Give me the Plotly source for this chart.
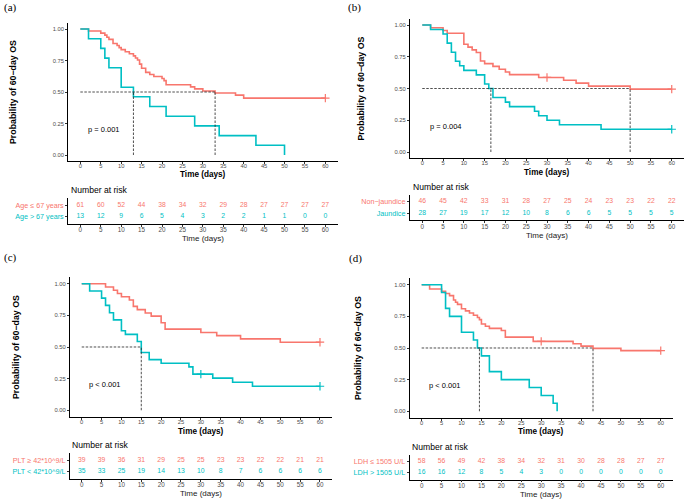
import plotly.graph_objects as go

W, H = 685, 499
RED = "#F8766D"
TEAL = "#00BFC4"
FONT = "Liberation Sans, Arial, sans-serif"
SERIF = "Liberation Serif, Times New Roman, serif"

TIMES = [0, 5, 10, 15, 20, 25, 30, 35, 40, 45, 50, 55, 60]
Y_TICKS = [0, 0.25, 0.5, 0.75, 1.0]
Y_TICK_TEXT = ["0.00", "0.25", "0.50", "0.75", "1.00"]

# ---- (a) age
A_LABELS = ["Age ≤ 67 years", "Age > 67 years"]
A_RED_T = [0, 2, 5, 6, 6.5, 7, 8, 9, 9.5, 10, 11, 12, 13, 13.5, 14, 14.5, 15, 16, 17, 18,
           20, 20.5, 21, 27, 28, 30, 33, 38, 40, 60]
A_RED_S = [1.0, 0.984, 0.967, 0.951, 0.934, 0.918, 0.885, 0.869, 0.852, 0.836, 0.820, 0.803,
           0.787, 0.770, 0.754, 0.721, 0.689, 0.656, 0.639, 0.623, 0.607, 0.590, 0.557, 0.541,
           0.525, 0.508, 0.492, 0.475, 0.451, 0.451]
A_BLUE_T = [0, 2, 5, 6, 7, 10, 13, 17, 21, 28, 34, 43, 50]
A_BLUE_S = [1.0, 0.923, 0.846, 0.769, 0.692, 0.538, 0.462, 0.385, 0.308, 0.231, 0.154, 0.077, 0.0]
A_RED_CENS_T, A_RED_CENS_S = [60], [0.451]
A_BLUE_CENS_T, A_BLUE_CENS_S = [], []
A_MEDIANS = [13, 33]
A_PVAL = "p = 0.001"
A_RISK_RED = [61, 60, 52, 44, 38, 34, 32, 29, 28, 27, 27, 27, 27]
A_RISK_BLUE = [13, 12, 9, 6, 5, 4, 3, 2, 2, 1, 1, 0, 0]

# ---- (b) jaundice
B_LABELS = ["Non−jaundice", "Jaundice"]
B_RED_T = [0, 2, 5, 6, 10, 11, 12, 13, 14, 15, 17, 18.5, 20, 21, 28, 34, 37, 40, 50, 60]
B_RED_S = [1.0, 0.978, 0.957, 0.935, 0.848, 0.826, 0.804, 0.783, 0.717, 0.696, 0.674, 0.652,
           0.630, 0.609, 0.587, 0.565, 0.542, 0.519, 0.495, 0.495]
B_BLUE_T = [0, 2, 5, 6, 7, 8, 9, 10, 13, 15, 16, 17, 20, 21, 27, 28, 30, 33, 43, 60]
B_BLUE_S = [1.0, 0.964, 0.929, 0.857, 0.786, 0.714, 0.679, 0.643, 0.607, 0.536, 0.500, 0.429,
            0.393, 0.357, 0.321, 0.286, 0.250, 0.214, 0.179, 0.179]
B_RED_CENS_T, B_RED_CENS_S = [30, 60], [0.587, 0.495]
B_BLUE_CENS_T, B_BLUE_CENS_S = [60], [0.179]
B_MEDIANS = [16.5, 50]
B_PVAL = "p = 0.004"
B_RISK_RED = [46, 45, 42, 33, 31, 28, 27, 25, 24, 23, 23, 22, 22]
B_RISK_BLUE = [28, 27, 19, 17, 12, 10, 8, 6, 6, 5, 5, 5, 5]

# ---- (c) platelets
C_LABELS = ["PLT ≥ 42*10^9/L", "PLT &lt; 42*10^9/L"]
C_RED_T = [0, 6, 8, 9, 10, 12, 13, 14, 16, 17.5, 20, 21, 30, 34, 40, 50, 60]
C_RED_S = [1.0, 0.974, 0.949, 0.923, 0.897, 0.872, 0.821, 0.795, 0.769, 0.744, 0.692, 0.641,
           0.615, 0.590, 0.564, 0.538, 0.538]
C_BLUE_T = [0, 2, 5, 6, 7, 8, 10, 11, 14, 15, 17, 20, 27, 28, 33, 38, 43, 60]
C_BLUE_S = [1.0, 0.943, 0.886, 0.829, 0.771, 0.714, 0.629, 0.600, 0.543, 0.457, 0.400, 0.371,
            0.343, 0.286, 0.254, 0.222, 0.190, 0.190]
C_RED_CENS_T, C_RED_CENS_S = [60], [0.538]
C_BLUE_CENS_T, C_BLUE_CENS_S = [30, 60], [0.286, 0.190]
C_MEDIANS = [15]
C_PVAL = "p &lt; 0.001"
C_RISK_RED = [39, 39, 36, 31, 29, 25, 25, 23, 23, 22, 22, 21, 21]
C_RISK_BLUE = [35, 33, 25, 19, 14, 13, 10, 8, 7, 6, 6, 6, 6]

# ---- (d) LDH
D_LABELS = ["LDH ≤ 1505 U/L", "LDH > 1505 U/L"]
D_RED_T = [0, 2, 5, 6, 7, 8, 8.5, 9, 10, 11, 12, 13, 14, 14.5, 15, 16, 17, 20, 21, 28,
           38, 40, 43, 50, 60]
D_RED_S = [1.0, 0.966, 0.948, 0.931, 0.914, 0.879, 0.862, 0.845, 0.810, 0.793, 0.776, 0.759,
           0.741, 0.724, 0.690, 0.672, 0.655, 0.638, 0.586, 0.552, 0.533, 0.515, 0.497, 0.479,
           0.479]
D_BLUE_T = [0, 5, 6, 7, 10, 13, 14, 15, 17, 20, 27, 30, 33, 34]
D_BLUE_S = [1.0, 0.938, 0.813, 0.750, 0.625, 0.563, 0.500, 0.438, 0.313, 0.250, 0.188, 0.125,
            0.063, 0.0]
D_RED_CENS_T, D_RED_CENS_S = [30, 60], [0.552, 0.479]
D_BLUE_CENS_T, D_BLUE_CENS_S = [], []
D_MEDIANS = [14.5, 43]
D_PVAL = "p &lt; 0.001"
D_RISK_RED = [58, 56, 49, 42, 38, 34, 32, 31, 30, 28, 28, 27, 27]
D_RISK_BLUE = [16, 16, 12, 8, 5, 4, 3, 0, 0, 0, 0, 0, 0]

panels = [
    dict(tag="(a)", labels=A_LABELS, red=(A_RED_T, A_RED_S, A_RED_CENS_T, A_RED_CENS_S),
         blue=(A_BLUE_T, A_BLUE_S, A_BLUE_CENS_T, A_BLUE_CENS_S), medians=A_MEDIANS,
         pval=A_PVAL, risk=(A_RISK_RED, A_RISK_BLUE)),
    dict(tag="(b)", labels=B_LABELS, red=(B_RED_T, B_RED_S, B_RED_CENS_T, B_RED_CENS_S),
         blue=(B_BLUE_T, B_BLUE_S, B_BLUE_CENS_T, B_BLUE_CENS_S), medians=B_MEDIANS,
         pval=B_PVAL, risk=(B_RISK_RED, B_RISK_BLUE)),
    dict(tag="(c)", labels=C_LABELS, red=(C_RED_T, C_RED_S, C_RED_CENS_T, C_RED_CENS_S),
         blue=(C_BLUE_T, C_BLUE_S, C_BLUE_CENS_T, C_BLUE_CENS_S), medians=C_MEDIANS,
         pval=C_PVAL, risk=(C_RISK_RED, C_RISK_BLUE)),
    dict(tag="(d)", labels=D_LABELS, red=(D_RED_T, D_RED_S, D_RED_CENS_T, D_RED_CENS_S),
         blue=(D_BLUE_T, D_BLUE_S, D_BLUE_CENS_T, D_BLUE_CENS_S), medians=D_MEDIANS,
         pval=D_PVAL, risk=(D_RISK_RED, D_RISK_BLUE)),
]

# pixel boxes of each panel (layout only)
boxes = [
    dict(km_x=(68.1, 337.6), km_y=(22.7, 161.3), tb_y=(198, 223.7), ytitle_x=13,
         kmx_title_y=174, nar=(69, 190), tbx_title_y=238, tag=(2, 7)),
    dict(km_x=(409.8, 684.2), km_y=(18.65, 158.35), tb_y=(194.7, 220.3), ytitle_x=360,
         kmx_title_y=172.7, nar=(410.7, 187), tbx_title_y=235, tag=(346, 7)),
    dict(km_x=(69.8, 331.9), km_y=(277.4, 416.6), tb_y=(453, 478.7), ytitle_x=16,
         kmx_title_y=431, nar=(70, 445), tbx_title_y=493.3, tag=(2, 257)),
    dict(km_x=(409.7, 672.7), km_y=(278.4, 417.6), tb_y=(454.5, 479.5), ytitle_x=358,
         kmx_title_y=431.7, nar=(410, 446.7), tbx_title_y=494, tag=(347, 258)),
]


def fx(px):
    return px / W


def fy(py):
    return 1 - py / H


fig = go.Figure()
layout = {}
annotations = []

axis_common = dict(showline=True, linecolor="black", linewidth=0.9, showgrid=False,
                   zeroline=False, ticks="outside", ticklen=2, tickwidth=0.8,
                   tickcolor="#333333", tickfont=dict(family=FONT, size=5.8, color="#4D4D4D"))

for i, (p, b) in enumerate(zip(panels, boxes)):
    km, tb = 2 * i + 1, 2 * i + 2
    xk = "x" if km == 1 else f"x{km}"
    yk = "y" if km == 1 else f"y{km}"
    xt, yt = f"x{tb}", f"y{tb}"

    # survival curves
    for color, (t, s, ct, cs) in [(RED, p["red"]), (TEAL, p["blue"])]:
        fig.add_trace(go.Scatter(x=t, y=s, mode="lines", xaxis=xk, yaxis=yk,
                                 line=dict(color=color, width=1.6, shape="hv"),
                                 showlegend=False, hoverinfo="skip"))
        if ct:
            fig.add_trace(go.Scatter(x=ct, y=cs, mode="markers", xaxis=xk, yaxis=yk,
                                     marker=dict(symbol="cross-thin", size=6, color=color,
                                                 line=dict(color=color, width=1.2)),
                                     showlegend=False, hoverinfo="skip"))

    # median lines
    meds = p["medians"]
    dash = dict(color="#222222", width=0.8, dash="2.5px,1.5px")
    fig.add_trace(go.Scatter(x=[0, max(meds)], y=[0.5, 0.5], mode="lines", line=dash,
                             xaxis=xk, yaxis=yk, showlegend=False, hoverinfo="skip"))
    for m in meds:
        fig.add_trace(go.Scatter(x=[m, m], y=[0, 0.5], mode="lines", line=dash,
                                 xaxis=xk, yaxis=yk, showlegend=False, hoverinfo="skip"))

    # risk table
    for row, color, vals in [(2, RED, p["risk"][0]), (1, TEAL, p["risk"][1])]:
        fig.add_trace(go.Scatter(x=TIMES, y=[row] * len(TIMES), text=[str(v) for v in vals],
                                 mode="text", textfont=dict(family=FONT, size=6.8, color=color),
                                 xaxis=xt, yaxis=yt, showlegend=False, hoverinfo="skip"))

    xdom = [fx(b["km_x"][0]), fx(b["km_x"][1])]
    layout["xaxis" if km == 1 else f"xaxis{km}"] = dict(
        axis_common, domain=xdom, anchor=yk, range=[-3, 63], tickvals=TIMES,
        ticklabelstandoff=-3)
    layout["yaxis" if km == 1 else f"yaxis{km}"] = dict(
        axis_common, domain=[fy(b["km_y"][1]), fy(b["km_y"][0])], anchor=xk,
        range=[-0.05, 1.05], tickvals=Y_TICKS, ticktext=Y_TICK_TEXT)
    layout[f"xaxis{tb}"] = dict(axis_common, domain=xdom, anchor=yt, range=[-3, 63],
                                tickvals=TIMES, ticklabelstandoff=-2,
                                tickfont=dict(family=FONT, size=6.3, color="#4D4D4D"))
    layout[f"yaxis{tb}"] = dict(
        axis_common, domain=[fy(b["tb_y"][1]), fy(b["tb_y"][0])], anchor=xt,
        range=[0.4, 2.6], tickvals=[1, 2],
        ticktext=[f'<span style="color:{TEAL}">{p["labels"][1]}</span>',
                  f'<span style="color:{RED}">{p["labels"][0]}</span>'],
        tickfont=dict(family=FONT, size=7.2))

    xmid = (xdom[0] + xdom[1]) / 2
    annotations += [
        dict(text=p["tag"], x=fx(b["tag"][0]), y=fy(b["tag"][1]), xanchor="left",
             yanchor="middle", font=dict(family=SERIF, size=11, color="black")),
        dict(text="<b>Probability of 60−day OS</b>", x=fx(b["ytitle_x"]),
             y=fy((b["km_y"][0] + b["km_y"][1]) / 2), textangle=-90, xanchor="center",
             yanchor="middle", font=dict(family=FONT, size=8.8, color="black")),
        dict(text="<b>Time (days)</b>", x=xmid, y=fy(b["kmx_title_y"]), xanchor="center",
             yanchor="middle", font=dict(family=FONT, size=8.2, color="black")),
        dict(text="Number at risk", x=fx(b["nar"][0]), y=fy(b["nar"][1]), xanchor="left",
             yanchor="middle", font=dict(family=FONT, size=8.6, color="black")),
        dict(text="Time (days)", x=xmid, y=fy(b["tbx_title_y"]), xanchor="center",
             yanchor="middle", font=dict(family=FONT, size=8, color="#222222")),
        dict(text=p["pval"], x=1.4, y=0.2, xref=xk, yref=yk, xanchor="left",
             yanchor="middle", font=dict(family=FONT, size=7.5, color="black")),
    ]

for a in annotations:
    a.setdefault("xref", "paper")
    a.setdefault("yref", "paper")
    a["showarrow"] = False

fig.update_layout(
    width=W, height=H,
    margin=dict(l=0, r=0, t=0, b=0),
    paper_bgcolor="white", plot_bgcolor="white",
    annotations=annotations,
    **layout,
)

# drop the page's default body margin so the figure sits at the window corner
fig.write_html("out.html", config={"displayModeBar": False},
               post_script="document.body.style.margin='0';")
